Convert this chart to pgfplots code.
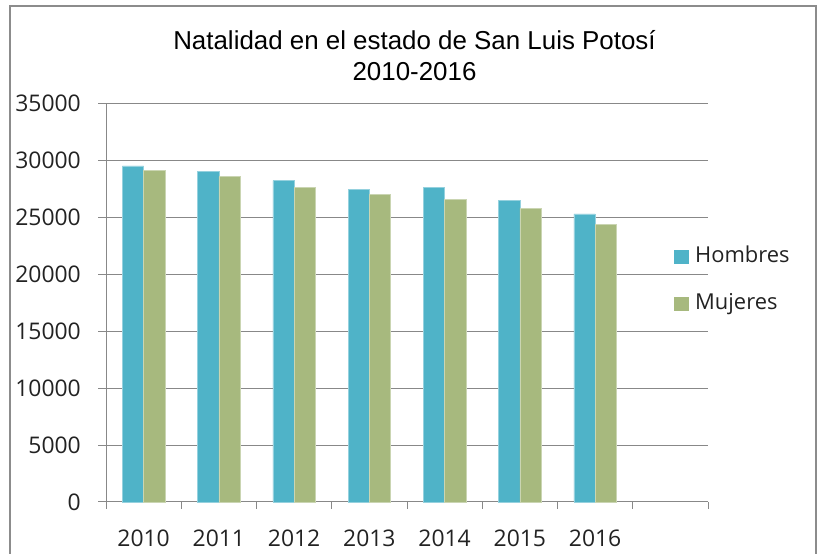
\documentclass[border=0pt]{standalone}
\usepackage{fontspec}
\setmainfont{Open Sans}
\newfontfamily\titlefont{Liberation Sans}
\usepackage{pgfplots}
\pgfplotsset{compat=1.18}
\definecolor{hom}{HTML}{4FB3C8}
\definecolor{muj}{HTML}{A7B97E}
\definecolor{gridc}{HTML}{888888}
\definecolor{framec}{HTML}{8C8C8C}
\definecolor{txt}{HTML}{222222}
\pgfplotsset{
  /pgfplots/ybar legend/.style={/pgfplots/legend image code/.code={\fill[##1,draw=none] (0bp,-7.3bp) rectangle (14.7bp,7.3bp);}},
}
\begin{document}
\begin{tikzpicture}[x=1bp,y=1bp]
\useasboundingbox (0,0) rectangle (821,554);
\draw[framec, line width=2bp] (9.7,-10) -- (9.7,548.3) -- (815.7,548.3) -- (815.7,-10);
\node[anchor=base, inner sep=0pt, font=\titlefont\fontsize{26}{30}\selectfont] at (414.5,504) {Natalidad en el estado de San Luis Potosí};
\node[anchor=base, inner sep=0pt, font=\titlefont\fontsize{26}{30}\selectfont] at (414.5,473) {2010-2016};
\begin{axis}[
  at={(106bp,52bp)}, anchor=south west, scale only axis,
  width=602bp, height=398.7bp,
  xmin=-0.5, xmax=7.5, ymin=0, ymax=35000,
  ybar=0pt, bar width=21.3bp,
  axis x line*=bottom, axis y line*=left,
  axis line style={gridc, line width=1bp, -},
  tick align=outside,
  xtick={0,...,6}, xticklabels={2010,2011,2012,2013,2014,2015,2016},
  minor xtick={-0.5,0.5,...,7.5},
  major x tick style={draw=none},
  minor tick length=7bp, major tick length=8bp,
  tick style={gridc, line width=1bp},
  scaled y ticks=false,
  ytick={0,5000,...,35000},
  yticklabels={0,5000,10000,15000,20000,25000,30000,35000},
  ymajorgrids, grid style={gridc, line width=1bp},
  yticklabel style={anchor=east, inner sep=0pt, xshift=-17bp, font=\fontsize{23}{27}\selectfont, text=txt},
  xticklabel style={anchor=base, inner sep=0pt, yshift=-37bp, font=\fontsize{23}{27}\selectfont, text=txt},
  legend style={draw=none, fill=none, at={(0.944,0.5559)}, anchor=west,
    inner sep=0pt, row sep=26bp, font=\fontsize{22}{26}\selectfont, text=txt,
    nodes={inner sep=0pt, text height=16bp, text depth=5bp},
    /tikz/every odd column/.append style={column sep=6bp}},
  legend cell align=left,
  clip=false,
]
\addplot[fill=hom, draw=hom!60!white, line width=0.6bp] coordinates {(0,29500) (1,29010) (2,28220) (3,27470) (4,27600) (5,26470) (6,25290)};
\addplot[fill=muj, draw=muj!60!white, line width=0.6bp] coordinates {(0,29120) (1,28570) (2,27630) (3,27020) (4,26550) (5,25790) (6,24390)};
\legend{Hombres, Mujeres}
\end{axis}
\end{tikzpicture}
\end{document}
